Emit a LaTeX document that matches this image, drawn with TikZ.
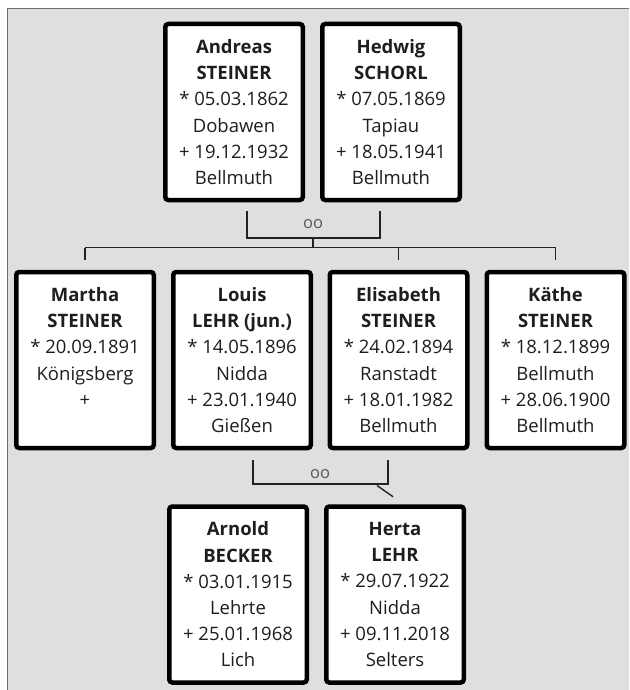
\documentclass[tikz,border=0pt]{standalone}
\usepackage{fontspec}
\setmainfont{Open Sans}
\usetikzlibrary{calc}
\definecolor{bg}{HTML}{DFDFDE}
\definecolor{frame}{HTML}{707070}
\definecolor{txt}{HTML}{1E1E1E}
\definecolor{oocol}{HTML}{5A5A5A}
\definecolor{conncol}{HTML}{222222}
\begin{document}
\begin{tikzpicture}[x=1pt,y=-1pt,
  person/.style={draw=black, line width=4.5pt, rounded corners=3pt, fill=white,
    minimum width=137.5pt, minimum height=176pt, inner sep=0pt, align=center,
    text=txt, font=\fontsize{18.5}{26.2}\selectfont},
  oo/.style={text=oocol, font=\fontsize{16.5}{16.5}\selectfont, inner sep=0pt},
  conn/.style={draw=conncol, line width=1.4pt}]
\useasboundingbox (0,0) rectangle (629,690);
\fill[white] (0,0) rectangle (629,690);
\fill[bg] (7.5,8.5) rectangle (629,690);
\draw[frame, line width=1pt] (7.5,690) -- (7.5,8.5) -- (629,8.5);

% generation 1
\node[person] (andreas) at (234,112) {\textbf{Andreas}\\\textbf{STEINER}\\{*} 05.03.1862\\Dobawen\\+ 19.12.1932\\Bellmuth};
\node[person] (hedwig) at (391,112) {\textbf{Hedwig}\\\textbf{SCHORL}\\{*} 07.05.1869\\Tapiau\\+ 18.05.1941\\Bellmuth};

% generation 2
\node[person] (martha) at (85,360) {\textbf{Martha}\\\textbf{STEINER}\\{*} 20.09.1891\\Königsberg\\+\\~};
\node[person] (louis) at (242,360) {\textbf{Louis}\\\textbf{LEHR (jun.)}\\{*} 14.05.1896\\Nidda\\+ 23.01.1940\\Gießen};
\node[person] (elisabeth) at (398.5,360) {\textbf{Elisabeth}\\\textbf{STEINER}\\{*} 24.02.1894\\Ranstadt\\+ 18.01.1982\\Bellmuth};
\node[person] (kaethe) at (555.5,360) {\textbf{Käthe}\\\textbf{STEINER}\\{*} 18.12.1899\\Bellmuth\\+ 28.06.1900\\Bellmuth};

% generation 3
\node[person] (arnold) at (238,594.5) {\textbf{Arnold}\\\textbf{BECKER}\\{*} 03.01.1915\\Lehrte\\+ 25.01.1968\\Lich};
\node[person] (herta) at (395,594.5) {\textbf{Herta}\\\textbf{LEHR}\\{*} 29.07.1922\\Nidda\\+ 09.11.2018\\Selters};

% marriage 1
\coordinate (m1l) at (247,238);
\coordinate (m1r) at (380,238);
\coordinate (m1c) at (313,238);
\coordinate (sb) at (313,247.5);
\draw[conn] ($(andreas.south -| m1l)+(0,9)$) -- (m1l) -- (m1r) -- ($(hedwig.south -| m1r)+(0,9)$);
\node[oo] (oo1) at (313,224) {oo};
\draw[conn] (m1c) -- (sb);
\draw[conn] (martha.north |- sb) -- (kaethe.north |- sb);
\draw[conn] (martha.north |- sb) -- ($(martha.north)+(0,-10)$);
\draw[conn] (elisabeth.north |- sb) -- ($(elisabeth.north)+(0,-10)$);
\draw[conn] (kaethe.north |- sb) -- ($(kaethe.north)+(0,-10)$);

% marriage 2
\coordinate (m2l) at (253,484);
\coordinate (m2r) at (388,484);
\coordinate (m2d) at (377,485.5);
\draw[conn] ($(louis.south -| m2l)+(0,10)$) -- (m2l) -- (m2r) -- ($(elisabeth.south -| m2r)+(0,10)$);
\node[oo] (oo2) at (320,474) {oo};
\draw[conn] (m2d) -- ($(herta.north)+(-2,-7.5)$);
\end{tikzpicture}
\end{document}
